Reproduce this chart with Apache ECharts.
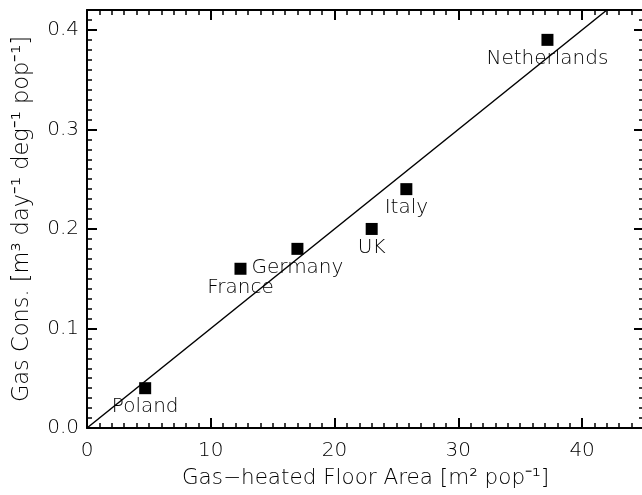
<!DOCTYPE html>
<html>
<head>
<meta charset="utf-8">
<script src="https://cdn.jsdelivr.net/npm/echarts@6/dist/echarts.min.js"></script>
<style>html,body{margin:0;padding:0;background:#fff}#c{width:642px;height:495px}</style>
</head>
<body>
<div id="c"></div>
<script>
const countries = ["Poland", "France", "Germany", "UK", "Italy", "Netherlands"];
const floorArea = [4.7, 12.4, 17.0, 23.0, 25.8, 37.2];
const gasCons = [0.04, 0.16, 0.18, 0.20, 0.24, 0.39];
const fitX = [0, 42];
const fitY = [0, 0.42];
const xTitle = "Gas\u2212heated Floor Area [m\u00B2 pop\u207B\u00B9]";
const yTitle = "Gas Cons. [m\u00B3 day\u207B\u00B9 deg\u207B\u00B9 pop\u207B\u00B9]";

const FONT = "DejaVu Sans";
const txt = {fontFamily: FONT, fontSize: 20, fontWeight: 200, color: "#000"};
const xTitleTxt = {fontFamily: FONT, fontSize: 21.5, fontWeight: 200, color: "#000"};
const yTitleTxt = {fontFamily: FONT, fontSize: 22.5, fontWeight: 200, color: "#000"};
const axisCommon = {
  axisLine: {show: true, onZero: false, lineStyle: {color: "#000", width: 2}},
  axisTick: {show: true, inside: true, length: 10, lineStyle: {color: "#000", width: 2}},
  minorTick: {show: true, splitNumber: 10, length: 5, lineStyle: {color: "#000", width: 1.5}},
  splitLine: {show: false},
  minorSplitLine: {show: false}
};

const chart = echarts.init(document.getElementById("c"), null, {renderer: "canvas"});
chart.setOption({
  animation: false,
  backgroundColor: "#fff",
  grid: {left: 87, right: -2, top: 10, bottom: 67, containLabel: false, outerBoundsMode: "none"},
  xAxis: [
    Object.assign({
      type: "value", position: "bottom", min: 0, max: 45, interval: 10,
      name: xTitle, nameLocation: "middle", nameGap: 39, nameTextStyle: xTitleTxt,
      axisLabel: Object.assign({margin: 13, showMaxLabel: false}, txt)
    }, axisCommon),
    Object.assign({
      type: "value", position: "top", min: 0, max: 45, interval: 10,
      axisLabel: {show: false}
    }, axisCommon)
  ],
  yAxis: [
    Object.assign({
      type: "value", position: "left", min: 0, max: 0.42, interval: 0.1,
      name: yTitle, nameLocation: "middle", nameGap: 53, nameRotate: 90, nameTextStyle: yTitleTxt,
      axisLabel: Object.assign({margin: 8, showMaxLabel: false, formatter: v => v.toFixed(1)}, txt)
    }, axisCommon),
    Object.assign({
      type: "value", position: "right", min: 0, max: 0.42, interval: 0.1,
      axisLabel: {show: false}
    }, axisCommon)
  ],
  series: [
    {
      type: "line",
      data: fitX.map((x, i) => [x, fitY[i]]),
      symbol: "none",
      lineStyle: {color: "#000", width: 1.5},
      z: 2
    },
    {
      type: "scatter",
      data: floorArea.map((x, i) => ({value: [x, gasCons[i]], name: countries[i]})),
      symbol: "rect",
      symbolSize: 12,
      itemStyle: {color: "#000", opacity: 1},
      label: Object.assign({show: true, position: "bottom", distance: 3, formatter: p => p.name, opacity: 1}, txt),
      emphasis: {disabled: true},
      z: 3
    }
  ]
});
</script>
</body>
</html>
